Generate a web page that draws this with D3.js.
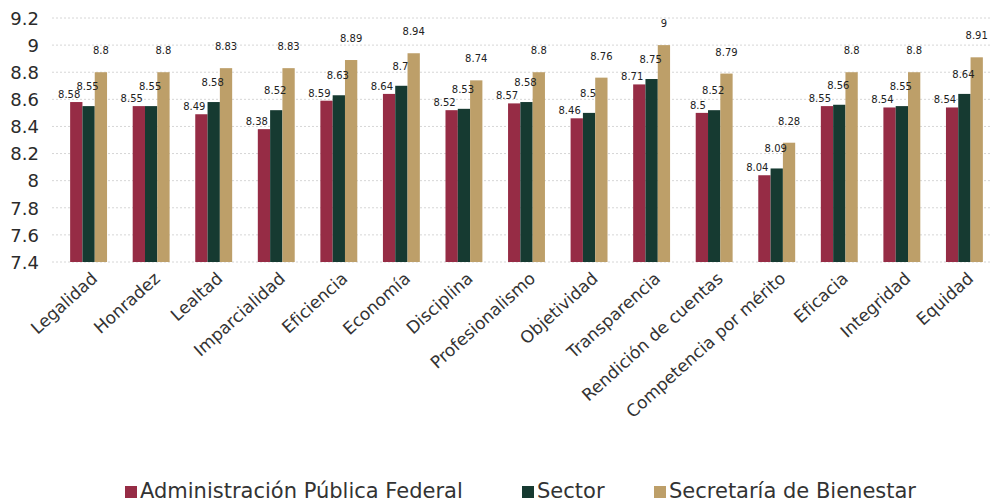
<!DOCTYPE html>
<html lang="es">
<head>
<meta charset="UTF-8">
<script src="https://d3js.org/d3.v7.min.js"></script>
<style>
  body { margin: 0; background: #fff; }
  text { font-family: "DejaVu Sans", sans-serif; }
</style>
</head>
<body>
<script>
const categories = ["Legalidad", "Honradez", "Lealtad", "Imparcialidad", "Eficiencia", "Economía",
  "Disciplina", "Profesionalismo", "Objetividad", "Transparencia", "Rendición de cuentas",
  "Competencia por mérito", "Eficacia", "Integridad", "Equidad"];
const apf       = [8.58, 8.55, 8.49, 8.38, 8.59, 8.64, 8.52, 8.57, 8.46, 8.71, 8.5, 8.04, 8.55, 8.54, 8.54];
const sector    = [8.55, 8.55, 8.58, 8.52, 8.63, 8.7, 8.53, 8.58, 8.5, 8.75, 8.52, 8.09, 8.56, 8.55, 8.64];
const bienestar = [8.8, 8.8, 8.83, 8.83, 8.89, 8.94, 8.74, 8.8, 8.76, 9, 8.79, 8.28, 8.8, 8.8, 8.91];
const seriesNames = ["Administración Pública Federal", "Sector", "Secretaría de Bienestar"];
const yTicks = [7.4, 7.6, 7.8, 8, 8.2, 8.4, 8.6, 8.8, 9, 9.2];

const colors = ["#962c45", "#163a31", "#bd9f69"];
const width = 992, height = 502;

const series = [apf, sector, bienestar];
const rows = categories.map((c, i) => ({ cat: c, vals: series.map(s => s[i]) }));

const svg = d3.select("body").append("svg")
  .attr("width", width).attr("height", height);

const x0 = d3.scaleBand()
  .domain(categories)
  .range([57, 996])
  .paddingInner(0.41)
  .paddingOuter(0.21);

const x1 = d3.scaleBand()
  .domain([0, 1, 2])
  .range([0, x0.bandwidth()]);

const y = d3.scaleLinear()
  .domain([7.4, 9.2])
  .range([262, 18]);

// grid
svg.append("g")
  .selectAll("line")
  .data(yTicks)
  .join("line")
  .attr("x1", 52).attr("x2", 990)
  .attr("y1", d => y(d)).attr("y2", d => y(d))
  .attr("stroke", "#d6d6d6")
  .attr("stroke-dasharray", "2,2");

// y axis labels
const yAxis = d3.axisLeft(y).tickValues(yTicks).tickSize(0).tickPadding(0)
  .tickFormat(d3.format("~g"));
svg.append("g")
  .attr("transform", "translate(39,0)")
  .call(yAxis)
  .call(g => g.select(".domain").remove())
  .call(g => g.selectAll("text")
    .attr("font-size", 18)
    .attr("fill", "#2b2b2b")
    .attr("dy", "0.35em")
    .style("font-family", "'DejaVu Sans', sans-serif"));

// bars
const groups = svg.append("g")
  .selectAll("g")
  .data(rows)
  .join("g")
  .attr("transform", d => `translate(${x0(d.cat)},0)`);

groups.selectAll("rect")
  .data(d => d.vals.map((v, k) => ({ v, k })))
  .join("rect")
  .attr("x", d => x1(d.k))
  .attr("width", x1.bandwidth())
  .attr("y", d => y(d.v))
  .attr("height", d => y(7.4) - y(d.v))
  .attr("fill", d => colors[d.k]);

// value labels
const labelDx = [4, -1, 0], labelDy = [-4, -16, -18], anchors = ["end", "middle", "middle"];
groups.selectAll("text.val")
  .data(d => d.vals.map((v, k) => ({ v, k })))
  .join("text")
  .attr("class", "val")
  .attr("x", d => x1(d.k) + x1.bandwidth() / 2 + labelDx[d.k])
  .attr("y", d => y(d.v) + labelDy[d.k])
  .attr("text-anchor", d => anchors[d.k])
  .attr("font-size", 10)
  .attr("fill", "#222")
  .text(d => d3.format("~g")(d.v));

// category labels
svg.append("g")
  .selectAll("text")
  .data(categories)
  .join("text")
  .attr("transform", d => `translate(${x0(d) + x0.bandwidth() / 2 + 10},280) rotate(-42)`)
  .attr("text-anchor", "end")
  .attr("font-size", 17)
  .attr("fill", "#333")
  .text(d => d);

// legend
const legendX = [125, 522, 654];
const legend = svg.append("g")
  .selectAll("g")
  .data(seriesNames)
  .join("g")
  .attr("transform", (d, i) => `translate(${legendX[i]},483)`);
legend.append("rect")
  .attr("width", 12).attr("height", 12)
  .attr("y", 3)
  .attr("fill", (d, i) => colors[i]);
legend.append("text")
  .attr("x", 15).attr("y", 15)
  .attr("font-size", 21)
  .attr("fill", "#333")
  .text(d => d);
</script>
</body>
</html>
